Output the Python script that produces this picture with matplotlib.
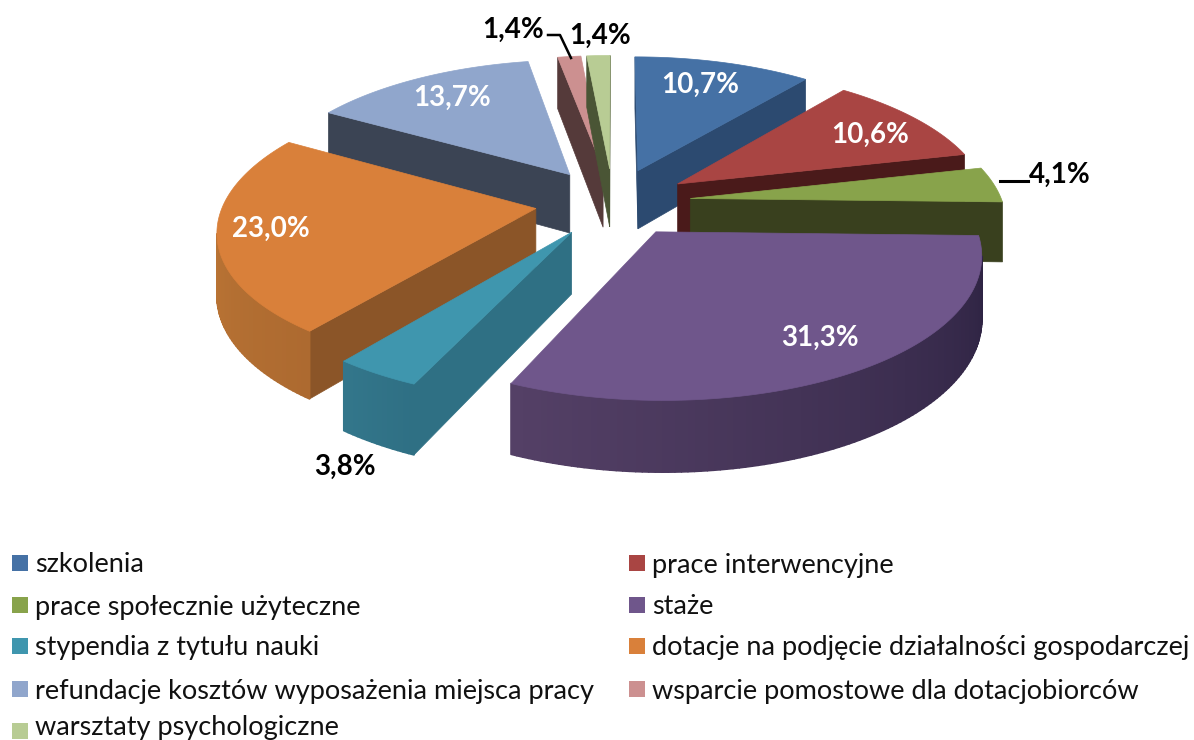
import numpy as np
from matplotlib import pyplot as plt
from matplotlib.patches import Polygon, Rectangle

categories = ['szkolenia', 'prace interwencyjne', 'prace społecznie użyteczne', 'staże',
              'stypendia z tytułu nauki', 'dotacje na podjęcie działalności gospodarczej',
              'refundacje kosztów wyposażenia miejsca pracy', 'wsparcie pomostowe dla dotacjobiorców',
              'warsztaty psychologiczne']
values = [10.7, 10.6, 4.1, 31.3, 3.8, 23.0, 13.7, 1.4, 1.4]

top_colors = ['#4571a5', '#a94543', '#88a34b', '#6f568b', '#3f96ae', '#d9803a', '#90a6cc', '#cc9090', '#b8cc94']
wall_colors = ['#2c4a70', '#4a1a1a', '#39401e', '#3f2e52', '#2f7084', '#8b5528', '#3b4454', '#553a3a', '#4a5535']
# outer rim colour at the start and the end of each slice
rim_colors = [('#2c4a70', '#2c4a70'), ('#4a1a1a', '#4a1a1a'), ('#39401e', '#39401e'),
              ('#2b2140', '#544066'), ('#2f7084', '#33768b'), ('#ad6a30', '#c47c38'),
              ('#3b4454', '#3b4454'), ('#553a3a', '#553a3a'), ('#4a5535', '#4a5535')]

label_pos = [(700, 85), (870, 135), (1060, 175), (820, 338), (345, 467), (271, 229), (452, 98), (513, 30), (600, 36)]
label_col = ['white', 'white', 'black', 'white', 'black', 'white', 'white', 'black', 'black']

# back slices first
draw_order = [6, 7, 8, 0, 1, 2, 5, 4, 3]

CX, CY = 613, 202
RX, RY = 312, 137
H = 60
KX = 0.14
KY = 0.135
EXPLODE = 0.25


def project(x, y, z=0.0):
    sx = 1 / (1 - KX * y)
    sy = 1 / (1 - KY * y)
    return CX + x * sx * RX, CY + y * sy * RY + z * sy * H


def area(pts):
    p = np.array(pts)
    return 0.5 * np.sum(p[:, 0] * np.roll(p[:, 1], -1) - np.roll(p[:, 0], -1) * p[:, 1])


def mix(c1, c2, t):
    a = np.array(plt.matplotlib.colors.to_rgb(c1))
    b = np.array(plt.matplotlib.colors.to_rgb(c2))
    return a + (b - a) * t


def draw_slice(ax, start, end, i):
    mid = np.radians((start + end) / 2)
    ex, ey = EXPLODE * np.sin(mid), -EXPLODE * np.cos(mid)
    th = np.radians(np.linspace(start, end, max(int(end - start) + 2, 3)))
    xs = ex + np.sin(th)
    ys = ey - np.cos(th)

    # radial walls, only the ones facing us
    for k, sign in ((0, 1), (-1, -1)):
        quad = [project(ex, ey), project(xs[k], ys[k]), project(xs[k], ys[k], 1), project(ex, ey, 1)]
        if area(quad) * sign < 0:
            ax.add_patch(Polygon(quad, fc=wall_colors[i], ec=wall_colors[i], lw=0.5))

    # outer rim
    for j in range(len(th) - 1):
        quad = [project(xs[j], ys[j]), project(xs[j + 1], ys[j + 1]),
                project(xs[j + 1], ys[j + 1], 1), project(xs[j], ys[j], 1)]
        if area(quad) < 0:
            c = mix(rim_colors[i][0], rim_colors[i][1], j / max(len(th) - 2, 1))
            ax.add_patch(Polygon(quad, fc=c, ec=c, lw=1.2, joinstyle='round'))

    top = [project(ex, ey)] + [project(x, y) for x, y in zip(xs, ys)]
    ax.add_patch(Polygon(top, fc=top_colors[i], ec=top_colors[i], lw=0.5))


fig = plt.figure(figsize=(11.94, 7.40), dpi=100)
ax = fig.add_axes([0, 0, 1, 1])
ax.set_xlim(0, 1194)
ax.set_ylim(740, 0)
ax.axis('off')

edges = np.cumsum([0] + values) * 3.6
for i in draw_order:
    draw_slice(ax, edges[i], edges[i + 1], i)

# leader lines
ax.plot([548, 560, 571], [35, 35, 58], color='black', lw=1.8)
ax.plot([1000, 1028], [181, 181], color='black', lw=2.2)

for v, pos, col in zip(values, label_pos, label_col):
    txt = f'{v:.1f}%'.replace('.', ',')
    ax.text(pos[0], pos[1], txt, color=col, fontsize=20, fontweight='bold', family='Lato',
            ha='center', va='center')

# legend, filled row by row in two columns
rows = [563, 605, 646, 689, 731]
for n, name in enumerate(categories):
    x0 = 12 if n % 2 == 0 else 629
    y0 = rows[n // 2]
    ax.add_patch(Rectangle((x0, y0 - 8), 16, 16, fc=top_colors[n], ec='none'))
    # last row sits a little higher so the descenders stay inside the picture
    ty = y0 + 2 if n < 8 else y0 - 4
    ax.text(x0 + 23, ty, name, fontsize=19.5, family='Lato', color='#111111', ha='left', va='center')

fig.savefig('out.png', dpi=100)
